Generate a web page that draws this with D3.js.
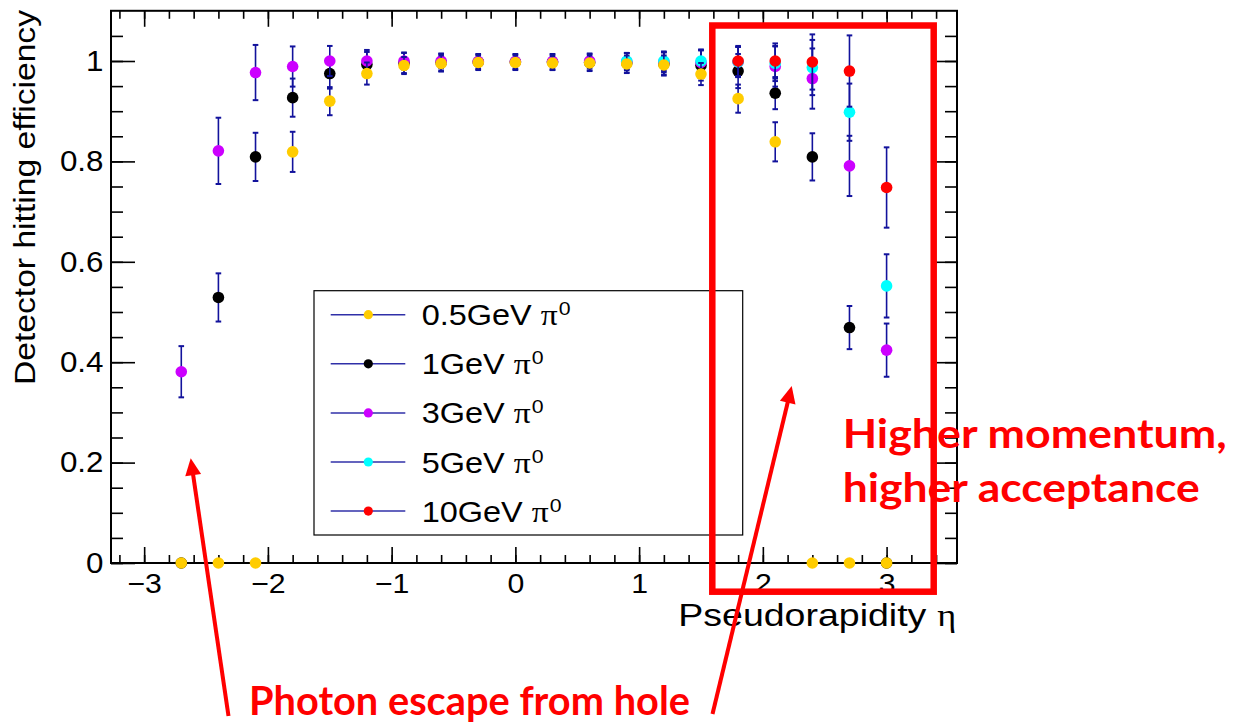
<!DOCTYPE html>
<html><head><meta charset="utf-8">
<script src="https://cdn.jsdelivr.net/npm/d3@7"></script>
<style>body{margin:0;background:#fff} svg{display:block}</style>
</head><body><svg id="c" width="1233" height="724"></svg>
<script>
// ---- data ----
const eta = [-2.7,-2.4,-2.1,-1.8,-1.5,-1.2,-0.9,-0.6,-0.3,0,0.3,0.6,0.9,1.2,1.5,1.8,2.1,2.4,2.7,3.0];
const eff05 = [0,0,0,0.819,0.920,0.975,0.991,0.995,0.997,0.997,0.996,0.996,0.994,0.992,0.974,0.925,0.839,0,0,0];
const err05 = [0,0,0,0.040,0.028,0.022,0.017,0.016,0.014,0.014,0.014,0.015,0.017,0.019,0.022,0.028,0.039,0,0,0];
const eff1  = [0,0.529,0.809,0.927,0.975,0.993,0.996,0.997,0.998,0.998,0.998,0.997,0.996,0.994,0.991,0.980,0.936,0.809,0.469,0];
const err1  = [0,0.048,0.048,0.038,0.030,0.025,0.020,0.017,0.016,0.016,0.016,0.017,0.020,0.023,0.030,0.034,0.032,0.047,0.043,0];
const eff3  = [0.381,0.821,0.977,0.989,1.0,1.0,1.0,1.0,0.999,0.999,0.999,1.0,0.999,0.998,0.997,0.998,0.989,0.965,0.791,0.424];
const err3  = [0.051,0.066,0.055,0.040,0.030,0.022,0.017,0.015,0.014,0.014,0.014,0.015,0.017,0.020,0.025,0.030,0.040,0.060,0.060,0.053];
const eff5  = [null,null,null,null,null,null,null,null,null,null,null,null,1.0,1.0,1.0,0.998,0.995,0.987,0.898,0.552];
const err5  = [null,null,null,null,null,null,null,null,null,null,null,null,0.016,0.019,0.023,0.030,0.035,0.055,0.057,0.063];
const eff10 = [null,null,null,null,null,null,null,null,null,null,null,null,null,null,null,1.0,1.0,0.998,0.980,0.748];
const err10 = [null,null,null,null,null,null,null,null,null,null,null,null,null,null,null,0.030,0.035,0.055,0.071,0.080];
const seriesNames = ["0.5GeV","1GeV","3GeV","5GeV","10GeV"];
const seriesColors = ["#ffcc00","#000000","#cc00ff","#00ffff","#ff0000"];
const yTickLabels = ["0","0.2","0.4","0.6","0.8","1"];
const xTickLabels = ["−3","−2","−1","0","1","2","3"];
const xTitle = "Pseudorapidity";
const yTitle = "Detector hitting efficiency";
const noteRight = ["Higher momentum,","higher acceptance"];
const noteBottom = "Photon escape from hole";

const series = [
  {name:seriesNames[0], color:seriesColors[0], v:eff05, e:err05},
  {name:seriesNames[1], color:seriesColors[1], v:eff1, e:err1},
  {name:seriesNames[2], color:seriesColors[2], v:eff3, e:err3},
  {name:seriesNames[3], color:seriesColors[3], v:eff5, e:err5},
  {name:seriesNames[4], color:seriesColors[4], v:eff10, e:err10}
];
const drawOrder = [1,2,3,4,0];

// ---- layout ----
const svg = d3.select("#c");
const L=111, R=957, T=10.8, B=563;
const x = d3.scaleLinear().domain([-3.268,3.569]).range([L,R]);
const y = d3.scaleLinear().domain([0,1.1]).range([B,T]);
const SANS = "'Liberation Sans', Arial, Helvetica, sans-serif";
const SERIF = "'Liberation Serif', 'Times New Roman', serif";
const ERRC = "#12129c";

const xMajor = d3.range(-3,4,1);
const xMinor = d3.range(-16,18).map(i=>+(i*0.2).toFixed(2)).filter(v=>v>x.domain()[0]&&v<x.domain()[1]);
const yMajor = d3.range(0,6).map(i=>+(i*0.2).toFixed(2));
const yMinor = d3.range(0,23).map(i=>+(i*0.05).toFixed(2)).filter(v=>v<1.1);

function styleAxis(g){ g.select(".domain").remove(); g.selectAll("line").attr("stroke","#000").attr("stroke-width",1.6); }

// bottom axis
svg.append("g").attr("transform",`translate(0,${B})`)
  .call(d3.axisBottom(x).tickValues(xMinor).tickSize(-8).tickFormat("")).call(styleAxis);
const gxb = svg.append("g").attr("transform",`translate(0,${B})`)
  .call(d3.axisBottom(x).tickValues(xMajor).tickSize(-16).tickPadding(10).tickFormat((d,i)=>xTickLabels[i])).call(styleAxis);
gxb.selectAll("text").attr("font-family",SANS).attr("font-size",28).attr("fill","#000").attr("transform","scale(1.08,1)");
// top axis
svg.append("g").attr("transform",`translate(0,${T})`)
  .call(d3.axisTop(x).tickValues(xMinor).tickSize(-8).tickFormat("")).call(styleAxis);
svg.append("g").attr("transform",`translate(0,${T})`)
  .call(d3.axisTop(x).tickValues(xMajor).tickSize(-16).tickFormat("")).call(styleAxis);
// left axis
svg.append("g").attr("transform",`translate(${L},0)`)
  .call(d3.axisLeft(y).tickValues(yMinor).tickSize(-12).tickFormat("")).call(styleAxis);
const gyl = svg.append("g").attr("transform",`translate(${L},0)`)
  .call(d3.axisLeft(y).tickValues(yMajor).tickSize(-24).tickPadding(7).tickFormat((d,i)=>yTickLabels[i])).call(styleAxis);
gyl.selectAll("text").attr("font-family",SANS).attr("font-size",29).attr("fill","#000").attr("transform","scale(1.08,1)");
// right axis
svg.append("g").attr("transform",`translate(${R},0)`)
  .call(d3.axisRight(y).tickValues(yMinor).tickSize(-12).tickFormat("")).call(styleAxis);
svg.append("g").attr("transform",`translate(${R},0)`)
  .call(d3.axisRight(y).tickValues(yMajor).tickSize(-23).tickFormat("")).call(styleAxis);

// frame
svg.append("rect").attr("x",L).attr("y",T).attr("width",R-L).attr("height",B-T)
  .attr("fill","none").attr("stroke","#000").attr("stroke-width",2);

// axis titles
svg.append("text").attr("transform",`translate(35,385) rotate(-90)`)
  .attr("font-family",SANS).attr("font-size",30).attr("fill","#000")
  .attr("textLength",375).attr("lengthAdjust","spacingAndGlyphs").text(yTitle);
const xt = svg.append("g").attr("transform","translate(678.3,626)");
xt.append("text").attr("font-family",SANS).attr("font-size",32).attr("fill","#000")
  .attr("textLength",248).attr("lengthAdjust","spacingAndGlyphs").text(xTitle);
xt.append("text").attr("x",259).attr("font-family",SERIF).attr("font-size",32).attr("fill","#000")
  .attr("textLength",19).attr("lengthAdjust","spacingAndGlyphs").text("η");

// data
drawOrder.forEach(si=>{
  const s = series[si];
  const pts = eta.map((xv,i)=>({x:xv,v:s.v[i],e:s.e[i]})).filter(p=>p.v!==null);
  const g = svg.append("g");
  const eb = pts.filter(p=>p.e>0);
  g.selectAll("line.eb").data(eb).join("line")
    .attr("x1",p=>x(p.x)).attr("x2",p=>x(p.x))
    .attr("y1",p=>y(p.v-p.e)).attr("y2",p=>y(p.v+p.e))
    .attr("stroke",ERRC).attr("stroke-width",1.6);
  ["lo","hi"].forEach(k=>{
    g.selectAll("line.cap"+k).data(eb).join("line")
      .attr("x1",p=>x(p.x)-2.8).attr("x2",p=>x(p.x)+2.8)
      .attr("y1",p=>y(k==="lo"?p.v-p.e:p.v+p.e)).attr("y2",p=>y(k==="lo"?p.v-p.e:p.v+p.e))
      .attr("stroke",ERRC).attr("stroke-width",2);
  });
  g.selectAll("circle").data(pts).join("circle")
    .attr("cx",p=>x(p.x)).attr("cy",p=>y(p.v)).attr("r",5.8).attr("fill",s.color);
});

// legend
const lg = svg.append("g");
lg.append("rect").attr("x",314).attr("y",290.7).attr("width",428.7).attr("height",244.3)
  .attr("fill","#fff").attr("stroke","#000").attr("stroke-width",1.2);
series.forEach((s,i)=>{
  const ey = 314.7 + i*49.1;
  lg.append("line").attr("x1",330.7).attr("x2",405.3).attr("y1",ey).attr("y2",ey)
    .attr("stroke","#3030a8").attr("stroke-width",1.5);
  lg.append("circle").attr("cx",368.3).attr("cy",ey).attr("r",4.6).attr("fill",s.color);
  const t = lg.append("text").attr("transform",`translate(421.7,${ey+10.5}) scale(1.12,1)`)
    .attr("font-family",SANS).attr("font-size",29).attr("fill","#000");
  t.append("tspan").text(s.name+" ");
  t.append("tspan").attr("font-family",SERIF).attr("font-size",30).text("π");
  t.append("tspan").attr("dy",-10).attr("dx",1).attr("font-size",19).text("0");
});

// annotations
const RED = "#ff0000";
const an = svg.append("g");
an.append("rect").attr("x",712.3).attr("y",25.5).attr("width",221.4).attr("height",566.2)
  .attr("fill","none").attr("stroke",RED).attr("stroke-width",6.5);
const LATO = "Lato, 'Open Sans', sans-serif";
an.append("text").attr("x",842.7).attr("y",448.3).attr("font-family",LATO).attr("font-weight","bold")
  .attr("font-size",41).attr("fill",RED).attr("textLength",384).attr("lengthAdjust","spacingAndGlyphs").text(noteRight[0]);
an.append("text").attr("x",842.7).attr("y",501.7).attr("font-family",LATO).attr("font-weight","bold")
  .attr("font-size",41).attr("fill",RED).attr("textLength",357).attr("lengthAdjust","spacingAndGlyphs").text(noteRight[1]);
an.append("text").attr("x",249).attr("y",715).attr("font-family",LATO).attr("font-weight","bold")
  .attr("font-size",40).attr("fill",RED).attr("textLength",441).attr("lengthAdjust","spacingAndGlyphs").text(noteBottom);

function arrow(x0,y0,x1,y1){
  const dx=x1-x0, dy=y1-y0, len=Math.hypot(dx,dy), ux=dx/len, uy=dy/len;
  const hl=17, hw=8;
  const bx=x1-ux*hl, by=y1-uy*hl;
  an.append("line").attr("x1",x0).attr("y1",y0).attr("x2",bx+ux*2).attr("y2",by+uy*2)
    .attr("stroke",RED).attr("stroke-width",4);
  an.append("path").attr("d",`M${x1},${y1}L${bx-uy*hw},${by+ux*hw}L${bx+uy*hw},${by-ux*hw}Z`).attr("fill",RED);
}
arrow(228.5,716,190.7,458.3);
arrow(712.5,714,791.7,386);
</script></body></html>
